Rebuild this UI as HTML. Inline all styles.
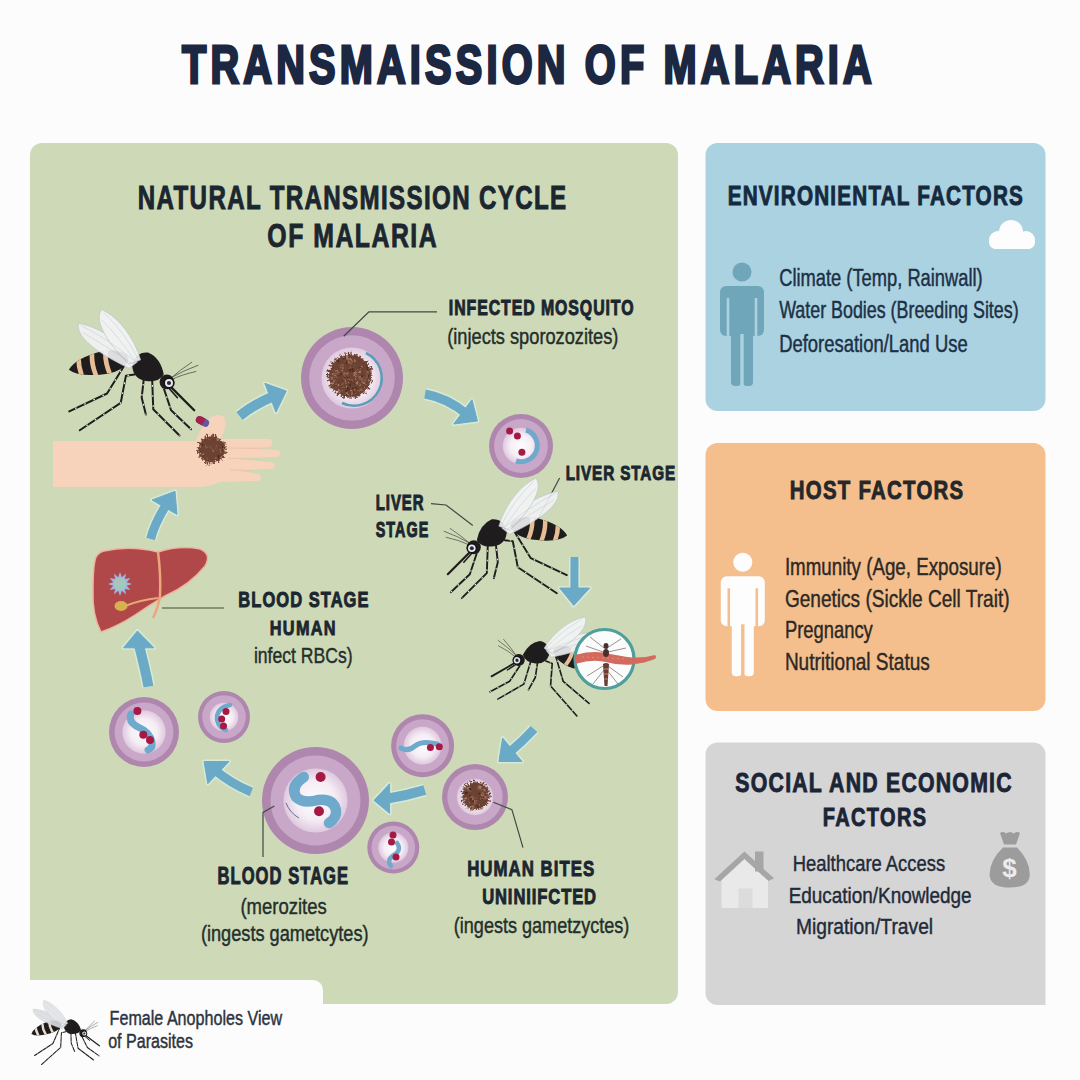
<!DOCTYPE html>
<html><head><meta charset="utf-8"><style>
html,body{margin:0;padding:0;background:#fcfcfc;}
svg{display:block;font-family:"Liberation Sans",sans-serif;}
</style></head><body>
<svg width="1080" height="1080" viewBox="0 0 1080 1080">
<defs>
<radialGradient id="cellc" cx="50%" cy="50%" r="50%">
 <stop offset="0" stop-color="#fdfcfd"/><stop offset="0.6" stop-color="#f5eef5"/><stop offset="1" stop-color="#dfc8de"/>
</radialGradient>
<filter id="fuzz" x="-30%" y="-30%" width="160%" height="160%">
 <feTurbulence type="fractalNoise" baseFrequency="0.7" numOctaves="2" seed="3" result="n"/>
 <feDisplacementMap in="SourceGraphic" in2="n" scale="3" xChannelSelector="R" yChannelSelector="G"/>
</filter>
<radialGradient id="blob" cx="50%" cy="50%" r="50%">
 <stop offset="0" stop-color="#6a3f30"/><stop offset="0.7" stop-color="#704536"/><stop offset="1" stop-color="#8a6050"/>
</radialGradient>
</defs>
<rect x="0" y="0" width="1080" height="1080" fill="#fcfcfc"/>
<rect x="30" y="143" width="648" height="861" rx="12" fill="#cedab7"/>
<rect x="705.5" y="143" width="340" height="268" rx="12" fill="#abd2e0"/>
<rect x="705.5" y="443" width="340" height="268" rx="12" fill="#f4bf8d"/>
<path d="M717.5 742.5 H1033.5 A12 12 0 0 1 1045.5 754.5 V1005 H717.5 A12 12 0 0 1 705.5 993 V754.5 A12 12 0 0 1 717.5 742.5 Z" fill="#d5d5d5"/>
<path d="M30 980 H313 A10 10 0 0 1 323 990 V1080 H30 Z" fill="#fcfcfc"/>
<path d="M239.5,416 Q256,403 275.2,395.7" stroke="#d8e9d6" stroke-width="13" fill="none"/><polygon points="264.8,383.3 286.3,391 276,412.2" fill="#d8e9d6" stroke="#d8e9d6" stroke-width="4" stroke-linejoin="round"/><path d="M239.5,416 Q256,403 275.2,395.7" stroke="#6aaac6" stroke-width="10" fill="none"/><polygon points="264.8,383.3 286.3,391 276,412.2" fill="#6aaac6" stroke="#6aaac6" stroke-width="1" stroke-linejoin="round"/>
<path d="M425,394 Q448,398 467.2,414.6" stroke="#d8e9d6" stroke-width="12" fill="none"/><polygon points="472,399.6 477.4,421 453.7,424" fill="#d8e9d6" stroke="#d8e9d6" stroke-width="4" stroke-linejoin="round"/><path d="M425,394 Q448,398 467.2,414.6" stroke="#6aaac6" stroke-width="9" fill="none"/><polygon points="472,399.6 477.4,421 453.7,424" fill="#6aaac6" stroke="#6aaac6" stroke-width="1" stroke-linejoin="round"/>
<path d="M574.5,557 L574.4,593.2" stroke="#d8e9d6" stroke-width="11" fill="none"/><polygon points="559.6,588 573.8,605.4 589.7,588" fill="#d8e9d6" stroke="#d8e9d6" stroke-width="4" stroke-linejoin="round"/><path d="M574.5,557 L574.4,593.2" stroke="#6aaac6" stroke-width="8" fill="none"/><polygon points="559.6,588 573.8,605.4 589.7,588" fill="#6aaac6" stroke="#6aaac6" stroke-width="1" stroke-linejoin="round"/>
<path d="M534,729 Q522,742 508.3,753.3" stroke="#d8e9d6" stroke-width="12" fill="none"/><polygon points="502.6,738 498.9,761.5 522,761.5" fill="#d8e9d6" stroke="#d8e9d6" stroke-width="4" stroke-linejoin="round"/><path d="M534,729 Q522,742 508.3,753.3" stroke="#6aaac6" stroke-width="9" fill="none"/><polygon points="502.6,738 498.9,761.5 522,761.5" fill="#6aaac6" stroke="#6aaac6" stroke-width="1" stroke-linejoin="round"/>
<path d="M424.8,790 Q405,796 384.9,799.1" stroke="#d8e9d6" stroke-width="13" fill="none"/><polygon points="389.6,783.7 373.9,800.4 389.6,813.3" fill="#d8e9d6" stroke="#d8e9d6" stroke-width="4" stroke-linejoin="round"/><path d="M424.8,790 Q405,796 384.9,799.1" stroke="#6aaac6" stroke-width="10" fill="none"/><polygon points="389.6,783.7 373.9,800.4 389.6,813.3" fill="#6aaac6" stroke="#6aaac6" stroke-width="1" stroke-linejoin="round"/>
<path d="M251.3,792 Q230,783 214.1,769.3" stroke="#d8e9d6" stroke-width="12" fill="none"/><polygon points="229,761.5 204,761.5 207.8,783.7" fill="#d8e9d6" stroke="#d8e9d6" stroke-width="4" stroke-linejoin="round"/><path d="M251.3,792 Q230,783 214.1,769.3" stroke="#6aaac6" stroke-width="9" fill="none"/><polygon points="229,761.5 204,761.5 207.8,783.7" fill="#6aaac6" stroke="#6aaac6" stroke-width="1" stroke-linejoin="round"/>
<path d="M148.5,686.7 Q145,668 138.3,642.8" stroke="#d8e9d6" stroke-width="13" fill="none"/><polygon points="123.5,647.8 137.4,631 154,647.8" fill="#d8e9d6" stroke="#d8e9d6" stroke-width="4" stroke-linejoin="round"/><path d="M148.5,686.7 Q145,668 138.3,642.8" stroke="#6aaac6" stroke-width="10" fill="none"/><polygon points="123.5,647.8 137.4,631 154,647.8" fill="#6aaac6" stroke="#6aaac6" stroke-width="1" stroke-linejoin="round"/>
<path d="M150.6,539 Q155,522 167.7,502.4" stroke="#d8e9d6" stroke-width="12" fill="none"/><polygon points="152,500 175,491.3 177,514.4" fill="#d8e9d6" stroke="#d8e9d6" stroke-width="4" stroke-linejoin="round"/><path d="M150.6,539 Q155,522 167.7,502.4" stroke="#6aaac6" stroke-width="9" fill="none"/><polygon points="152,500 175,491.3 177,514.4" fill="#6aaac6" stroke="#6aaac6" stroke-width="1" stroke-linejoin="round"/>
<g>
<path d="M53,441 L196,441 Q200,428 209,419 Q217,412 224,417 Q228,424 222,436 L221,439 L270,439 Q275,443 270,447 L228,448 L278,450 Q283,453.5 278,457 L230,458 L273,462.5 Q277,466 273,469 L232,470 L259,474 Q263,477.5 259,481 L220,482 Q210,487 196,487 L53,487 Z" fill="#f7d3bc"/>
<path d="M226,448 L262,448.5 M228,458.2 L266,460 M230,469.8 L252,471" stroke="#efc3a8" stroke-width="1" fill="none"/>
</g>
<g>
<path d="M104 551 Q130 545 158 552 Q180 545 200 549 Q212 554 205 566 Q190 585 165 596 Q150 605 135 615 Q118 626 101 632 Q92 615 93 590 Q93 565 96 557 Q99 552 104 551 Z" fill="#b0484a" stroke="#eeb39c" stroke-width="1.5"/>
<path d="M158 552 Q161 575 160 596 Q158 608 153 618" stroke="#eda57e" stroke-width="2.5" fill="none"/>
<path d="M125 606 Q140 600 158 598" stroke="#e8a870" stroke-width="2" fill="none"/>
<ellipse cx="121" cy="606" rx="6.5" ry="5" fill="#d7b050"/>

<polygon points="132.0,584.0 126.8,585.8 130.4,590.0 124.9,588.9 126.0,594.4 121.8,590.8 120.0,596.0 118.2,590.8 114.0,594.4 115.1,588.9 109.6,590.0 113.2,585.8 108.0,584.0 113.2,582.2 109.6,578.0 115.1,579.1 114.0,573.6 118.2,577.2 120.0,572.0 121.8,577.2 126.0,573.6 124.9,579.1 130.4,578.0 126.8,582.2" fill="#a3b6dc"/>
<circle cx="120" cy="584" r="6" fill="#a3c9bd"/></g>
<circle cx="352" cy="378" r="51" fill="#af87ae"/><circle cx="352" cy="378" r="42.84" fill="#c9a7c8"/><circle cx="352" cy="378" r="30.60" fill="url(#cellc)"/>
<g filter="url(#fuzz)"><circle cx="350" cy="376" r="21" fill="#6c4233"/><line x1="368.0" y1="375.4" x2="372.4" y2="375.2" stroke="#6c4233" stroke-width="1.2"/><line x1="367.8" y1="378.3" x2="372.0" y2="378.9" stroke="#6c4233" stroke-width="1.2"/><line x1="367.6" y1="379.7" x2="372.4" y2="380.7" stroke="#6c4233" stroke-width="1.2"/><line x1="367.6" y1="379.8" x2="372.8" y2="380.9" stroke="#6c4233" stroke-width="1.2"/><line x1="367.2" y1="381.4" x2="372.0" y2="383.0" stroke="#6c4233" stroke-width="1.2"/><line x1="366.5" y1="383.2" x2="370.4" y2="384.9" stroke="#6c4233" stroke-width="1.2"/><line x1="365.0" y1="385.9" x2="370.1" y2="389.3" stroke="#6c4233" stroke-width="1.2"/><line x1="364.6" y1="386.5" x2="368.3" y2="389.2" stroke="#6c4233" stroke-width="1.2"/><line x1="362.2" y1="389.2" x2="366.6" y2="393.9" stroke="#6c4233" stroke-width="1.2"/><line x1="361.0" y1="390.2" x2="364.1" y2="394.2" stroke="#6c4233" stroke-width="1.2"/><line x1="358.3" y1="392.0" x2="360.2" y2="395.6" stroke="#6c4233" stroke-width="1.2"/><line x1="357.0" y1="392.6" x2="358.9" y2="396.9" stroke="#6c4233" stroke-width="1.2"/><line x1="357.8" y1="392.2" x2="359.6" y2="396.1" stroke="#6c4233" stroke-width="1.2"/><line x1="355.5" y1="393.1" x2="357.4" y2="398.9" stroke="#6c4233" stroke-width="1.2"/><line x1="354.3" y1="393.5" x2="355.5" y2="398.8" stroke="#6c4233" stroke-width="1.2"/><line x1="350.8" y1="394.0" x2="351.1" y2="398.9" stroke="#6c4233" stroke-width="1.2"/><line x1="349.4" y1="394.0" x2="349.2" y2="398.1" stroke="#6c4233" stroke-width="1.2"/><line x1="349.3" y1="394.0" x2="349.2" y2="398.5" stroke="#6c4233" stroke-width="1.2"/><line x1="345.4" y1="393.4" x2="344.1" y2="398.3" stroke="#6c4233" stroke-width="1.2"/><line x1="344.9" y1="393.3" x2="343.4" y2="398.5" stroke="#6c4233" stroke-width="1.2"/><line x1="342.8" y1="392.5" x2="340.8" y2="396.8" stroke="#6c4233" stroke-width="1.2"/><line x1="340.1" y1="391.0" x2="336.9" y2="395.8" stroke="#6c4233" stroke-width="1.2"/><line x1="340.3" y1="391.1" x2="337.3" y2="395.7" stroke="#6c4233" stroke-width="1.2"/><line x1="338.0" y1="389.4" x2="333.9" y2="394.1" stroke="#6c4233" stroke-width="1.2"/><line x1="336.3" y1="387.6" x2="332.7" y2="390.7" stroke="#6c4233" stroke-width="1.2"/><line x1="334.7" y1="385.4" x2="331.0" y2="387.7" stroke="#6c4233" stroke-width="1.2"/><line x1="334.8" y1="385.6" x2="329.8" y2="388.8" stroke="#6c4233" stroke-width="1.2"/><line x1="334.4" y1="384.9" x2="329.8" y2="387.5" stroke="#6c4233" stroke-width="1.2"/><line x1="333.7" y1="383.7" x2="328.6" y2="386.1" stroke="#6c4233" stroke-width="1.2"/><line x1="332.3" y1="379.5" x2="327.0" y2="380.6" stroke="#6c4233" stroke-width="1.2"/><line x1="332.0" y1="377.3" x2="327.3" y2="377.7" stroke="#6c4233" stroke-width="1.2"/><line x1="332.0" y1="376.2" x2="326.5" y2="376.3" stroke="#6c4233" stroke-width="1.2"/><line x1="332.0" y1="374.8" x2="326.9" y2="374.5" stroke="#6c4233" stroke-width="1.2"/><line x1="332.4" y1="372.1" x2="326.2" y2="370.7" stroke="#6c4233" stroke-width="1.2"/><line x1="332.5" y1="371.6" x2="327.0" y2="370.3" stroke="#6c4233" stroke-width="1.2"/><line x1="332.6" y1="371.4" x2="327.1" y2="369.9" stroke="#6c4233" stroke-width="1.2"/><line x1="334.0" y1="367.7" x2="328.3" y2="364.7" stroke="#6c4233" stroke-width="1.2"/><line x1="335.3" y1="365.6" x2="331.4" y2="362.9" stroke="#6c4233" stroke-width="1.2"/><line x1="335.4" y1="365.5" x2="330.8" y2="362.1" stroke="#6c4233" stroke-width="1.2"/><line x1="335.7" y1="365.1" x2="331.6" y2="361.9" stroke="#6c4233" stroke-width="1.2"/><line x1="337.2" y1="363.3" x2="334.2" y2="360.3" stroke="#6c4233" stroke-width="1.2"/><line x1="338.2" y1="362.4" x2="334.4" y2="357.9" stroke="#6c4233" stroke-width="1.2"/><line x1="339.9" y1="361.1" x2="337.3" y2="357.3" stroke="#6c4233" stroke-width="1.2"/><line x1="342.2" y1="359.8" x2="339.6" y2="354.2" stroke="#6c4233" stroke-width="1.2"/><line x1="342.9" y1="359.5" x2="340.8" y2="354.8" stroke="#6c4233" stroke-width="1.2"/><line x1="346.2" y1="358.4" x2="344.8" y2="352.3" stroke="#6c4233" stroke-width="1.2"/><line x1="348.9" y1="358.0" x2="348.5" y2="351.9" stroke="#6c4233" stroke-width="1.2"/><line x1="348.8" y1="358.0" x2="348.4" y2="353.0" stroke="#6c4233" stroke-width="1.2"/><line x1="350.8" y1="358.0" x2="351.1" y2="351.8" stroke="#6c4233" stroke-width="1.2"/><line x1="354.7" y1="358.6" x2="355.9" y2="354.4" stroke="#6c4233" stroke-width="1.2"/><line x1="353.7" y1="358.4" x2="354.7" y2="353.9" stroke="#6c4233" stroke-width="1.2"/><line x1="355.7" y1="358.9" x2="357.3" y2="354.0" stroke="#6c4233" stroke-width="1.2"/><line x1="358.5" y1="360.1" x2="360.7" y2="356.0" stroke="#6c4233" stroke-width="1.2"/><line x1="358.2" y1="360.0" x2="360.5" y2="355.5" stroke="#6c4233" stroke-width="1.2"/><line x1="360.9" y1="361.6" x2="364.1" y2="357.3" stroke="#6c4233" stroke-width="1.2"/><line x1="363.7" y1="364.3" x2="368.0" y2="360.6" stroke="#6c4233" stroke-width="1.2"/><line x1="363.8" y1="364.5" x2="368.1" y2="360.9" stroke="#6c4233" stroke-width="1.2"/><line x1="365.2" y1="366.4" x2="368.7" y2="364.2" stroke="#6c4233" stroke-width="1.2"/><line x1="366.4" y1="368.7" x2="371.9" y2="366.3" stroke="#6c4233" stroke-width="1.2"/><line x1="367.1" y1="370.3" x2="372.7" y2="368.4" stroke="#6c4233" stroke-width="1.2"/><line x1="367.1" y1="370.3" x2="371.8" y2="368.7" stroke="#6c4233" stroke-width="1.2"/><line x1="367.3" y1="371.0" x2="372.7" y2="369.5" stroke="#6c4233" stroke-width="1.2"/><line x1="367.7" y1="372.6" x2="371.8" y2="371.9" stroke="#6c4233" stroke-width="1.2"/><circle cx="354.6" cy="383.5" r="1.0" fill="#4e2c22"/><circle cx="344.4" cy="373.5" r="1.3" fill="#9a6d5a"/><circle cx="363.7" cy="382.5" r="1.0" fill="#a27a66"/><circle cx="349.9" cy="383.4" r="1.0" fill="#4e2c22"/><circle cx="360.0" cy="384.8" r="1.3" fill="#8a5a48"/><circle cx="336.9" cy="377.3" r="0.7" fill="#9a6d5a"/><circle cx="349.0" cy="359.3" r="1.2" fill="#8a5a48"/><circle cx="357.7" cy="377.1" r="0.7" fill="#4e2c22"/><circle cx="364.0" cy="378.4" r="1.3" fill="#4e2c22"/><circle cx="344.0" cy="359.1" r="1.0" fill="#4e2c22"/><circle cx="338.7" cy="390.5" r="1.0" fill="#a27a66"/><circle cx="341.8" cy="391.0" r="1.0" fill="#a27a66"/><circle cx="350.9" cy="358.9" r="1.2" fill="#a27a66"/><circle cx="348.9" cy="358.6" r="0.7" fill="#a27a66"/><circle cx="348.4" cy="362.5" r="1.2" fill="#9a6d5a"/><circle cx="354.6" cy="388.5" r="0.9" fill="#4e2c22"/><circle cx="368.6" cy="374.6" r="0.7" fill="#4e2c22"/><circle cx="343.9" cy="377.2" r="0.7" fill="#4e2c22"/><circle cx="362.4" cy="367.1" r="0.9" fill="#9a6d5a"/><circle cx="354.8" cy="361.1" r="1.2" fill="#9a6d5a"/><circle cx="344.9" cy="380.3" r="0.9" fill="#a27a66"/><circle cx="352.0" cy="368.1" r="0.7" fill="#4e2c22"/><circle cx="346.7" cy="357.5" r="0.9" fill="#8a5a48"/><circle cx="347.0" cy="357.4" r="1.3" fill="#a27a66"/><circle cx="347.3" cy="374.3" r="1.2" fill="#8a5a48"/><circle cx="353.4" cy="369.5" r="1.1" fill="#8a5a48"/><circle cx="339.1" cy="372.6" r="0.6" fill="#a27a66"/><circle cx="347.4" cy="358.9" r="1.0" fill="#9a6d5a"/><circle cx="332.9" cy="383.5" r="1.2" fill="#a27a66"/><circle cx="349.9" cy="384.9" r="1.0" fill="#4e2c22"/><circle cx="342.2" cy="391.0" r="1.2" fill="#8a5a48"/><circle cx="349.7" cy="371.2" r="1.1" fill="#8a5a48"/><circle cx="332.7" cy="374.2" r="1.0" fill="#a27a66"/><circle cx="363.9" cy="377.6" r="1.1" fill="#8a5a48"/><circle cx="352.5" cy="361.1" r="0.7" fill="#a27a66"/><circle cx="347.9" cy="362.9" r="0.8" fill="#9a6d5a"/><circle cx="336.9" cy="371.3" r="1.2" fill="#9a6d5a"/><circle cx="351.7" cy="380.3" r="1.1" fill="#9a6d5a"/><circle cx="337.3" cy="370.8" r="0.9" fill="#9a6d5a"/><circle cx="334.9" cy="375.5" r="1.1" fill="#a27a66"/><circle cx="337.3" cy="373.3" r="1.0" fill="#8a5a48"/><circle cx="340.5" cy="374.6" r="1.2" fill="#4e2c22"/><circle cx="355.4" cy="393.5" r="0.7" fill="#8a5a48"/><circle cx="343.7" cy="378.4" r="1.1" fill="#9a6d5a"/><circle cx="352.9" cy="388.3" r="1.1" fill="#4e2c22"/><circle cx="360.3" cy="391.1" r="0.7" fill="#4e2c22"/><circle cx="367.8" cy="372.3" r="1.1" fill="#a27a66"/><circle cx="354.4" cy="372.1" r="1.3" fill="#a27a66"/><circle cx="359.3" cy="391.0" r="1.3" fill="#8a5a48"/><circle cx="339.2" cy="381.8" r="0.8" fill="#4e2c22"/><circle cx="366.3" cy="378.0" r="0.9" fill="#8a5a48"/><circle cx="348.7" cy="378.3" r="1.0" fill="#4e2c22"/><circle cx="354.9" cy="375.5" r="1.3" fill="#a27a66"/><circle cx="349.4" cy="382.2" r="1.2" fill="#9a6d5a"/><circle cx="350.3" cy="367.8" r="1.2" fill="#8a5a48"/><circle cx="365.0" cy="370.7" r="0.7" fill="#8a5a48"/><circle cx="333.3" cy="368.1" r="0.7" fill="#4e2c22"/><circle cx="348.2" cy="371.7" r="1.2" fill="#8a5a48"/><circle cx="360.0" cy="377.1" r="1.2" fill="#9a6d5a"/><circle cx="353.5" cy="371.6" r="0.8" fill="#9a6d5a"/><circle cx="356.7" cy="376.5" r="1.2" fill="#8a5a48"/><circle cx="356.9" cy="383.3" r="1.3" fill="#a27a66"/><circle cx="348.6" cy="395.0" r="0.7" fill="#a27a66"/><circle cx="346.3" cy="386.2" r="0.8" fill="#a27a66"/><circle cx="356.0" cy="388.3" r="1.2" fill="#4e2c22"/><circle cx="368.7" cy="380.4" r="1.1" fill="#9a6d5a"/><circle cx="355.3" cy="389.3" r="0.8" fill="#8a5a48"/><circle cx="343.0" cy="365.2" r="1.1" fill="#8a5a48"/><circle cx="360.9" cy="366.8" r="1.1" fill="#4e2c22"/><circle cx="339.5" cy="392.0" r="0.9" fill="#a27a66"/><circle cx="360.7" cy="379.8" r="0.6" fill="#a27a66"/><circle cx="361.1" cy="365.5" r="0.7" fill="#8a5a48"/><circle cx="353.0" cy="371.3" r="1.0" fill="#4e2c22"/><circle cx="365.4" cy="380.5" r="0.7" fill="#a27a66"/><circle cx="348.9" cy="388.9" r="1.3" fill="#4e2c22"/><circle cx="350.5" cy="390.3" r="0.8" fill="#4e2c22"/><circle cx="345.8" cy="383.1" r="0.9" fill="#9a6d5a"/><circle cx="354.2" cy="389.1" r="0.7" fill="#9a6d5a"/><circle cx="360.8" cy="389.7" r="0.9" fill="#9a6d5a"/><circle cx="342.7" cy="368.3" r="1.0" fill="#9a6d5a"/><circle cx="350.0" cy="361.9" r="1.1" fill="#8a5a48"/><circle cx="333.6" cy="376.6" r="1.1" fill="#4e2c22"/><circle cx="364.9" cy="380.2" r="1.1" fill="#8a5a48"/><circle cx="361.2" cy="389.4" r="1.2" fill="#9a6d5a"/><circle cx="361.5" cy="366.8" r="0.7" fill="#a27a66"/><circle cx="347.4" cy="373.0" r="0.9" fill="#9a6d5a"/><circle cx="362.3" cy="380.1" r="1.0" fill="#9a6d5a"/><circle cx="334.1" cy="377.1" r="0.9" fill="#9a6d5a"/><circle cx="354.7" cy="373.9" r="1.1" fill="#9a6d5a"/><circle cx="349.6" cy="371.1" r="1.2" fill="#4e2c22"/><circle cx="351.7" cy="393.7" r="0.8" fill="#a27a66"/><circle cx="334.9" cy="379.8" r="0.7" fill="#8a5a48"/><circle cx="345.7" cy="393.9" r="1.0" fill="#9a6d5a"/><circle cx="363.7" cy="383.2" r="0.8" fill="#a27a66"/><circle cx="344.5" cy="361.4" r="0.6" fill="#a27a66"/><circle cx="349.4" cy="380.7" r="1.1" fill="#9a6d5a"/><circle cx="346.0" cy="391.4" r="0.9" fill="#4e2c22"/><circle cx="359.7" cy="384.9" r="0.8" fill="#a27a66"/><circle cx="344.4" cy="377.0" r="0.9" fill="#4e2c22"/><circle cx="367.1" cy="372.5" r="1.3" fill="#8a5a48"/><circle cx="360.4" cy="370.0" r="0.7" fill="#a27a66"/><circle cx="349.9" cy="370.2" r="1.3" fill="#4e2c22"/><circle cx="353.0" cy="369.6" r="1.2" fill="#4e2c22"/><circle cx="351.9" cy="392.1" r="0.9" fill="#8a5a48"/><circle cx="357.3" cy="373.6" r="0.9" fill="#8a5a48"/><circle cx="335.8" cy="384.3" r="0.8" fill="#8a5a48"/><circle cx="367.7" cy="376.2" r="1.2" fill="#4e2c22"/><circle cx="356.0" cy="373.0" r="1.2" fill="#9a6d5a"/><circle cx="342.8" cy="383.5" r="0.9" fill="#8a5a48"/><circle cx="366.0" cy="384.3" r="1.1" fill="#8a5a48"/><circle cx="346.6" cy="393.5" r="1.2" fill="#9a6d5a"/><circle cx="359.5" cy="371.9" r="1.3" fill="#a27a66"/><circle cx="344.9" cy="387.7" r="1.1" fill="#4e2c22"/><circle cx="362.4" cy="378.3" r="1.2" fill="#8a5a48"/><circle cx="332.2" cy="370.3" r="0.6" fill="#9a6d5a"/><circle cx="334.2" cy="381.0" r="1.1" fill="#a27a66"/><circle cx="359.9" cy="379.1" r="0.7" fill="#a27a66"/><circle cx="347.5" cy="388.2" r="1.1" fill="#4e2c22"/><circle cx="348.8" cy="395.1" r="0.8" fill="#a27a66"/><circle cx="338.6" cy="384.9" r="1.1" fill="#a27a66"/><circle cx="344.7" cy="376.0" r="1.0" fill="#8a5a48"/><circle cx="343.5" cy="387.3" r="0.9" fill="#8a5a48"/><circle cx="350.5" cy="390.3" r="0.8" fill="#a27a66"/><circle cx="350.4" cy="381.8" r="1.2" fill="#4e2c22"/><circle cx="358.6" cy="377.1" r="0.9" fill="#8a5a48"/><circle cx="354.1" cy="392.2" r="0.8" fill="#4e2c22"/><circle cx="349.2" cy="380.7" r="0.7" fill="#4e2c22"/><circle cx="340.6" cy="366.0" r="0.7" fill="#a27a66"/><circle cx="336.3" cy="388.1" r="0.9" fill="#8a5a48"/><circle cx="354.2" cy="366.1" r="0.7" fill="#9a6d5a"/><circle cx="351.1" cy="363.4" r="1.3" fill="#8a5a48"/><circle cx="362.1" cy="382.0" r="1.3" fill="#8a5a48"/><circle cx="357.5" cy="382.1" r="0.7" fill="#a27a66"/><circle cx="364.8" cy="388.0" r="0.7" fill="#8a5a48"/><circle cx="367.0" cy="376.1" r="0.8" fill="#a27a66"/><circle cx="338.7" cy="361.3" r="1.3" fill="#4e2c22"/><circle cx="334.9" cy="373.3" r="1.1" fill="#8a5a48"/><circle cx="355.8" cy="378.8" r="0.9" fill="#a27a66"/><circle cx="342.6" cy="370.6" r="1.0" fill="#9a6d5a"/><circle cx="346.6" cy="395.0" r="1.1" fill="#4e2c22"/><circle cx="332.1" cy="378.8" r="1.0" fill="#a27a66"/><circle cx="347.2" cy="377.7" r="0.6" fill="#4e2c22"/><circle cx="356.4" cy="370.4" r="0.7" fill="#8a5a48"/><circle cx="341.8" cy="380.2" r="0.8" fill="#4e2c22"/><circle cx="348.1" cy="379.0" r="0.9" fill="#8a5a48"/><circle cx="362.2" cy="376.5" r="1.1" fill="#4e2c22"/><circle cx="353.8" cy="389.2" r="0.8" fill="#a27a66"/><circle cx="352.1" cy="393.4" r="0.8" fill="#a27a66"/><circle cx="364.1" cy="387.5" r="1.0" fill="#8a5a48"/><circle cx="331.8" cy="377.7" r="1.3" fill="#9a6d5a"/><circle cx="344.2" cy="380.6" r="0.6" fill="#a27a66"/><circle cx="337.1" cy="383.6" r="0.7" fill="#9a6d5a"/><circle cx="346.9" cy="363.4" r="1.1" fill="#4e2c22"/><circle cx="367.5" cy="368.0" r="0.7" fill="#4e2c22"/></g>
<path d="M366 353 A27 27 0 0 1 342 403" stroke="#5b9cb8" stroke-width="2.5" fill="none"/>
<circle cx="521" cy="446" r="32" fill="#af87ae"/><circle cx="521" cy="446" r="26.88" fill="#c9a7c8"/><circle cx="521" cy="446" r="18.24" fill="url(#cellc)"/>
<path d="M526 430 A15 15 0 0 1 516 461" stroke="#6faacd" stroke-width="5" fill="none"/>
<circle cx="509.6" cy="431" r="3.5" fill="#a51a45"/><circle cx="517.4" cy="436" r="3.5" fill="#a51a45"/><circle cx="521.9" cy="452.2" r="3.5" fill="#a51a45"/>
<circle cx="422.6" cy="745.7" r="31.5" fill="#af87ae"/><circle cx="422.6" cy="745.7" r="26.46" fill="#c9a7c8"/><circle cx="422.6" cy="745.7" r="18.90" fill="url(#cellc)"/>
<path d="M401 748 Q408 752 415 746 Q422 740 437 744" stroke="#6faacd" stroke-width="5" fill="none" stroke-linecap="round"/>
<circle cx="430.4" cy="747.6" r="3.5" fill="#a51a45"/><circle cx="439.3" cy="746.7" r="3.5" fill="#a51a45"/>
<circle cx="475" cy="797" r="33" fill="#af87ae"/><circle cx="475" cy="797" r="27.72" fill="#c9a7c8"/><circle cx="475" cy="797" r="18.15" fill="url(#cellc)"/>
<g filter="url(#fuzz)"><circle cx="475.7" cy="795.7" r="13" fill="#6c4233"/><line x1="485.7" y1="796.0" x2="491.0" y2="796.2" stroke="#6c4233" stroke-width="1.2"/><line x1="485.6" y1="797.2" x2="490.3" y2="798.0" stroke="#6c4233" stroke-width="1.2"/><line x1="485.0" y1="799.3" x2="490.7" y2="801.5" stroke="#6c4233" stroke-width="1.2"/><line x1="484.1" y1="801.2" x2="488.3" y2="804.0" stroke="#6c4233" stroke-width="1.2"/><line x1="484.1" y1="801.1" x2="487.7" y2="803.3" stroke="#6c4233" stroke-width="1.2"/><line x1="483.2" y1="802.3" x2="487.0" y2="805.6" stroke="#6c4233" stroke-width="1.2"/><line x1="480.7" y1="804.3" x2="483.4" y2="809.0" stroke="#6c4233" stroke-width="1.2"/><line x1="479.5" y1="804.9" x2="481.4" y2="809.5" stroke="#6c4233" stroke-width="1.2"/><line x1="478.0" y1="805.4" x2="479.0" y2="810.1" stroke="#6c4233" stroke-width="1.2"/><line x1="476.3" y1="805.7" x2="476.6" y2="809.9" stroke="#6c4233" stroke-width="1.2"/><line x1="474.9" y1="805.7" x2="474.5" y2="810.1" stroke="#6c4233" stroke-width="1.2"/><line x1="473.6" y1="805.5" x2="472.6" y2="810.5" stroke="#6c4233" stroke-width="1.2"/><line x1="472.5" y1="805.2" x2="470.6" y2="810.7" stroke="#6c4233" stroke-width="1.2"/><line x1="470.7" y1="804.4" x2="468.0" y2="809.2" stroke="#6c4233" stroke-width="1.2"/><line x1="469.8" y1="803.8" x2="466.5" y2="808.2" stroke="#6c4233" stroke-width="1.2"/><line x1="468.3" y1="802.5" x2="464.7" y2="805.8" stroke="#6c4233" stroke-width="1.2"/><line x1="467.3" y1="801.1" x2="462.2" y2="804.4" stroke="#6c4233" stroke-width="1.2"/><line x1="466.9" y1="800.4" x2="462.9" y2="802.5" stroke="#6c4233" stroke-width="1.2"/><line x1="466.2" y1="798.9" x2="461.0" y2="800.7" stroke="#6c4233" stroke-width="1.2"/><line x1="465.8" y1="796.8" x2="460.9" y2="797.3" stroke="#6c4233" stroke-width="1.2"/><line x1="465.8" y1="794.0" x2="461.8" y2="793.3" stroke="#6c4233" stroke-width="1.2"/><line x1="466.1" y1="792.8" x2="460.6" y2="791.2" stroke="#6c4233" stroke-width="1.2"/><line x1="466.9" y1="791.0" x2="462.7" y2="788.8" stroke="#6c4233" stroke-width="1.2"/><line x1="467.5" y1="790.0" x2="463.0" y2="786.8" stroke="#6c4233" stroke-width="1.2"/><line x1="468.6" y1="788.6" x2="464.1" y2="784.1" stroke="#6c4233" stroke-width="1.2"/><line x1="468.7" y1="788.5" x2="464.5" y2="784.2" stroke="#6c4233" stroke-width="1.2"/><line x1="470.0" y1="787.5" x2="466.8" y2="782.7" stroke="#6c4233" stroke-width="1.2"/><line x1="472.1" y1="786.4" x2="469.9" y2="780.8" stroke="#6c4233" stroke-width="1.2"/><line x1="474.3" y1="785.8" x2="473.4" y2="779.6" stroke="#6c4233" stroke-width="1.2"/><line x1="475.9" y1="785.7" x2="476.0" y2="781.4" stroke="#6c4233" stroke-width="1.2"/><line x1="476.9" y1="785.8" x2="477.4" y2="781.8" stroke="#6c4233" stroke-width="1.2"/><line x1="479.3" y1="786.4" x2="481.0" y2="781.9" stroke="#6c4233" stroke-width="1.2"/><line x1="480.3" y1="786.8" x2="482.4" y2="783.0" stroke="#6c4233" stroke-width="1.2"/><line x1="480.9" y1="787.2" x2="484.2" y2="781.9" stroke="#6c4233" stroke-width="1.2"/><line x1="482.6" y1="788.4" x2="486.7" y2="784.1" stroke="#6c4233" stroke-width="1.2"/><line x1="483.8" y1="789.8" x2="488.1" y2="786.8" stroke="#6c4233" stroke-width="1.2"/><line x1="484.5" y1="790.9" x2="488.3" y2="788.7" stroke="#6c4233" stroke-width="1.2"/><line x1="485.1" y1="792.4" x2="490.4" y2="790.5" stroke="#6c4233" stroke-width="1.2"/><line x1="485.6" y1="794.1" x2="490.9" y2="793.2" stroke="#6c4233" stroke-width="1.2"/><circle cx="471.4" cy="797.8" r="1.3" fill="#9a6d5a"/><circle cx="481.0" cy="798.8" r="0.9" fill="#9a6d5a"/><circle cx="487.4" cy="793.6" r="0.8" fill="#a27a66"/><circle cx="470.1" cy="790.4" r="1.1" fill="#a27a66"/><circle cx="470.1" cy="786.2" r="1.1" fill="#9a6d5a"/><circle cx="474.5" cy="802.1" r="0.9" fill="#4e2c22"/><circle cx="478.9" cy="805.5" r="0.7" fill="#a27a66"/><circle cx="474.6" cy="801.4" r="0.8" fill="#a27a66"/><circle cx="483.2" cy="795.3" r="1.1" fill="#a27a66"/><circle cx="472.0" cy="796.6" r="0.7" fill="#9a6d5a"/><circle cx="479.2" cy="788.2" r="1.2" fill="#8a5a48"/><circle cx="475.0" cy="798.0" r="0.6" fill="#9a6d5a"/><circle cx="480.1" cy="787.5" r="1.3" fill="#a27a66"/><circle cx="480.6" cy="790.3" r="1.0" fill="#8a5a48"/><circle cx="470.3" cy="786.6" r="0.7" fill="#9a6d5a"/><circle cx="469.0" cy="789.4" r="0.6" fill="#a27a66"/><circle cx="482.4" cy="797.6" r="0.6" fill="#4e2c22"/><circle cx="484.5" cy="790.4" r="1.2" fill="#9a6d5a"/><circle cx="470.4" cy="801.2" r="0.7" fill="#4e2c22"/><circle cx="473.6" cy="795.8" r="0.6" fill="#8a5a48"/><circle cx="472.7" cy="798.0" r="1.0" fill="#a27a66"/><circle cx="477.6" cy="798.8" r="0.9" fill="#4e2c22"/><circle cx="473.4" cy="801.7" r="0.8" fill="#9a6d5a"/><circle cx="470.1" cy="802.7" r="0.6" fill="#8a5a48"/><circle cx="479.1" cy="785.8" r="0.9" fill="#a27a66"/><circle cx="482.8" cy="793.0" r="1.2" fill="#8a5a48"/><circle cx="479.0" cy="788.7" r="1.0" fill="#8a5a48"/><circle cx="476.7" cy="788.6" r="0.6" fill="#a27a66"/><circle cx="470.1" cy="788.8" r="0.7" fill="#8a5a48"/><circle cx="469.2" cy="802.5" r="0.7" fill="#a27a66"/><circle cx="469.4" cy="794.9" r="0.7" fill="#9a6d5a"/><circle cx="478.5" cy="787.8" r="0.8" fill="#a27a66"/><circle cx="486.2" cy="798.7" r="0.8" fill="#8a5a48"/><circle cx="469.6" cy="788.7" r="1.2" fill="#9a6d5a"/><circle cx="480.0" cy="787.3" r="1.0" fill="#a27a66"/><circle cx="467.7" cy="788.1" r="1.2" fill="#a27a66"/><circle cx="476.7" cy="800.7" r="1.3" fill="#8a5a48"/><circle cx="472.7" cy="799.4" r="0.8" fill="#a27a66"/><circle cx="483.8" cy="789.6" r="1.2" fill="#9a6d5a"/><circle cx="470.5" cy="786.0" r="0.7" fill="#4e2c22"/><circle cx="466.9" cy="792.8" r="1.1" fill="#4e2c22"/><circle cx="475.7" cy="802.3" r="1.1" fill="#8a5a48"/><circle cx="468.3" cy="798.7" r="0.6" fill="#9a6d5a"/><circle cx="464.1" cy="798.3" r="1.1" fill="#8a5a48"/><circle cx="465.5" cy="798.4" r="1.2" fill="#a27a66"/><circle cx="482.6" cy="798.8" r="0.9" fill="#4e2c22"/><circle cx="472.3" cy="797.0" r="0.6" fill="#9a6d5a"/><circle cx="479.5" cy="793.7" r="1.1" fill="#4e2c22"/><circle cx="483.8" cy="798.6" r="1.1" fill="#8a5a48"/><circle cx="486.2" cy="797.4" r="1.3" fill="#9a6d5a"/><circle cx="479.8" cy="786.3" r="0.7" fill="#a27a66"/><circle cx="473.0" cy="806.6" r="1.1" fill="#a27a66"/><circle cx="477.5" cy="805.7" r="1.0" fill="#4e2c22"/><circle cx="473.0" cy="801.1" r="1.2" fill="#4e2c22"/><circle cx="475.5" cy="803.8" r="0.7" fill="#8a5a48"/><circle cx="469.6" cy="795.5" r="0.9" fill="#4e2c22"/><circle cx="471.3" cy="798.7" r="1.1" fill="#4e2c22"/><circle cx="481.2" cy="805.6" r="0.7" fill="#4e2c22"/><circle cx="470.0" cy="789.1" r="1.3" fill="#4e2c22"/></g>
<circle cx="393.3" cy="847.6" r="26" fill="#af87ae"/><circle cx="393.3" cy="847.6" r="21.84" fill="#c9a7c8"/><circle cx="393.3" cy="847.6" r="15.08" fill="url(#cellc)"/>
<path d="M397 843 Q402 850 394 855 Q386 860 391 866" stroke="#6faacd" stroke-width="4.5" fill="none" stroke-linecap="round"/>
<circle cx="393" cy="835" r="3.5" fill="#a51a45"/><circle cx="391.5" cy="842" r="3.5" fill="#a51a45"/><circle cx="396" cy="857" r="3.5" fill="#a51a45"/>
<circle cx="315.5" cy="800.5" r="53.5" fill="#af87ae"/><circle cx="315.5" cy="800.5" r="44.94" fill="#c9a7c8"/><circle cx="315.5" cy="800.5" r="32.10" fill="url(#cellc)"/>
<path d="M303.8 777 Q290 786 296 797 Q303 804 318 800 Q333 798 336 810 Q337 818 329 823" stroke="#6faacd" stroke-width="10.5" fill="none" stroke-linecap="round"/>
<circle cx="320.6" cy="777" r="5" fill="#a51a45"/><circle cx="319" cy="811.2" r="5" fill="#a51a45"/>
<path d="M286 803 Q290 813 299 818" stroke="#6a6a90" stroke-width="1" fill="none"/>
<circle cx="224" cy="717" r="26" fill="#af87ae"/><circle cx="224" cy="717" r="21.84" fill="#c9a7c8"/><circle cx="224" cy="717" r="14.30" fill="url(#cellc)"/>
<path d="M230 705 Q216 708 217 720 Q219 728 226 730" stroke="#6faacd" stroke-width="4.5" fill="none" stroke-linecap="round"/>
<circle cx="226" cy="711.5" r="3.5" fill="#a51a45"/><circle cx="221.7" cy="718.9" r="3.5" fill="#a51a45"/><circle cx="223.5" cy="726" r="3.5" fill="#a51a45"/>
<circle cx="144" cy="732" r="35" fill="#af87ae"/><circle cx="144" cy="732" r="29.40" fill="#c9a7c8"/><circle cx="144" cy="732" r="21.70" fill="url(#cellc)"/>
<path d="M131 714 Q128 722 138 727 Q150 732 152 742 Q153 748 148 750" stroke="#6faacd" stroke-width="7" fill="none" stroke-linecap="round"/>
<circle cx="137.4" cy="711" r="4" fill="#a51a45"/><circle cx="143.3" cy="734.8" r="4" fill="#a51a45"/><circle cx="150" cy="740" r="4" fill="#a51a45"/>
<polyline points="343.7,336.3 368.9,311.9 437,311.9" stroke="#3f4a42" stroke-width="1.3" fill="none"/>
<line x1="162" y1="608" x2="224" y2="608" stroke="#6b7d5e" stroke-width="1.5"/>
<polyline points="274.4,806 263,812.4 263,857" stroke="#3f4a42" stroke-width="1.2" fill="none"/>
<polyline points="493.3,802.2 511.9,809.6 523,847.6" stroke="#3f4a42" stroke-width="1.2" fill="none"/>
<polyline points="431,503.6 446,505 472.8,525.5" stroke="#3f4a42" stroke-width="1.2" fill="none"/>
<line x1="559.6" y1="478" x2="537.6" y2="519.8" stroke="#3f4a42" stroke-width="1.2"/>
<defs><clipPath id="abdclip"><path d="M38,-19 Q42,-30 62,-30 Q88,-28 96,-18 Q88,-9 62,-8 Q42,-8 38,-19 Z"/></clipPath></defs>
<g transform="translate(169,383) rotate(0) scale(-1.05,1.05)"><path d="M7,-1 L-2,26 L-21,44" stroke="#1e1c1d" stroke-width="1.9" fill="none" stroke-linejoin="round" stroke-linecap="round"/><path d="M7,-1 L-2,26 L-21,44" stroke="#eef0e6" stroke-width="1.1" fill="none" stroke-dasharray="1.6 8" stroke-dashoffset="-5"/><path d="M16,-3 L15,25 L-10,50" stroke="#1e1c1d" stroke-width="1.9" fill="none" stroke-linejoin="round" stroke-linecap="round"/><path d="M16,-3 L15,25 L-10,50" stroke="#eef0e6" stroke-width="1.1" fill="none" stroke-dasharray="1.6 8" stroke-dashoffset="-5"/><path d="M24,-4 L26,14 L22,30" stroke="#1e1c1d" stroke-width="1.9" fill="none" stroke-linejoin="round" stroke-linecap="round"/><path d="M24,-4 L26,14 L22,30" stroke="#eef0e6" stroke-width="1.1" fill="none" stroke-dasharray="1.6 8" stroke-dashoffset="-5"/><path d="M33,-8 L41,-7 L46,19 L85,45" stroke="#1e1c1d" stroke-width="1.9" fill="none" stroke-linejoin="round" stroke-linecap="round"/><path d="M33,-8 L41,-7 L46,19 L85,45" stroke="#eef0e6" stroke-width="1.1" fill="none" stroke-dasharray="1.6 8" stroke-dashoffset="-5"/><path d="M43,-16 L59,10 L95,27" stroke="#1e1c1d" stroke-width="1.9" fill="none" stroke-linejoin="round" stroke-linecap="round"/><path d="M43,-16 L59,10 L95,27" stroke="#eef0e6" stroke-width="1.1" fill="none" stroke-dasharray="1.6 8" stroke-dashoffset="-5"/><path d="M-1,3 L-24,26" stroke="#1e1c1d" stroke-width="2.2" fill="none" stroke-linecap="round"/><path d="M0,5 L-8,14" stroke="#1e1c1d" stroke-width="1.6" fill="none" stroke-linecap="round"/><path d="M-2,-5 Q-14,-12 -28,-17 M-2,-3 Q-12,-8 -26,-11 M-1,-4 Q-10,-12 -22,-20" stroke="#55574f" stroke-width="0.8" fill="none"/><g transform="rotate(10 65 -19)"><path d="M38,-19 Q42,-30 62,-30 Q88,-28 96,-18 Q88,-9 62,-8 Q42,-8 38,-19 Z" fill="#1e1c1d"/><g clip-path="url(#abdclip)"><path d="M56,-31 q3,11 0,24 l4.5,0 q3,-13 0,-24 Z" fill="#e6bd95"/><path d="M69,-31 q3,11 0,24 l4.5,0 q3,-13 0,-24 Z" fill="#e6bd95"/><path d="M82,-31 q3,11 0,24 l4.5,0 q3,-13 0,-24 Z" fill="#e6bd95"/></g></g><path d="M5,-8 Q8,-24 20,-29 Q32,-30 35,-16 Q34,-4 22,-2 Q10,0 5,-8 Z" fill="#1e1c1d"/><circle cx="2" cy="-1" r="7" fill="#1e1c1d"/><g opacity="0.9"><path d="M30,-20 C42,-36 62,-52 86,-57 C89,-47 76,-32 38,-14 Z" fill="#f2f3f6" stroke="#b8bcc4" stroke-width="0.6"/><path d="M27,-22 C33,-42 47,-62 64,-70 C71,-62 63,-42 38,-18 Z" fill="#f4f5f8" stroke="#b8bcc4" stroke-width="0.6"/><path d="M33,-21 Q55,-40 84,-55 M34,-18 Q58,-34 82,-48 M30,-24 Q42,-48 62,-67 M33,-22 Q48,-44 64,-60" stroke="#c3c7cf" stroke-width="0.5" fill="none"/></g><circle cx="0" cy="0" r="5.4" fill="#151515"/><circle cx="0" cy="0" r="3.8" fill="#e4eaee"/><circle cx="0" cy="0" r="2" fill="#2b2b3b"/></g>
<g transform="translate(471.8,548.2) rotate(0) scale(1.0,1.0)"><path d="M7,-1 L-2,26 L-21,44" stroke="#1e1c1d" stroke-width="1.9" fill="none" stroke-linejoin="round" stroke-linecap="round"/><path d="M7,-1 L-2,26 L-21,44" stroke="#eef0e6" stroke-width="1.1" fill="none" stroke-dasharray="1.6 8" stroke-dashoffset="-5"/><path d="M16,-3 L15,25 L-10,50" stroke="#1e1c1d" stroke-width="1.9" fill="none" stroke-linejoin="round" stroke-linecap="round"/><path d="M16,-3 L15,25 L-10,50" stroke="#eef0e6" stroke-width="1.1" fill="none" stroke-dasharray="1.6 8" stroke-dashoffset="-5"/><path d="M24,-4 L26,14 L22,30" stroke="#1e1c1d" stroke-width="1.9" fill="none" stroke-linejoin="round" stroke-linecap="round"/><path d="M24,-4 L26,14 L22,30" stroke="#eef0e6" stroke-width="1.1" fill="none" stroke-dasharray="1.6 8" stroke-dashoffset="-5"/><path d="M33,-8 L41,-7 L46,19 L85,45" stroke="#1e1c1d" stroke-width="1.9" fill="none" stroke-linejoin="round" stroke-linecap="round"/><path d="M33,-8 L41,-7 L46,19 L85,45" stroke="#eef0e6" stroke-width="1.1" fill="none" stroke-dasharray="1.6 8" stroke-dashoffset="-5"/><path d="M43,-16 L59,10 L95,27" stroke="#1e1c1d" stroke-width="1.9" fill="none" stroke-linejoin="round" stroke-linecap="round"/><path d="M43,-16 L59,10 L95,27" stroke="#eef0e6" stroke-width="1.1" fill="none" stroke-dasharray="1.6 8" stroke-dashoffset="-5"/><path d="M-1,3 L-24,26" stroke="#1e1c1d" stroke-width="2.2" fill="none" stroke-linecap="round"/><path d="M0,5 L-8,14" stroke="#1e1c1d" stroke-width="1.6" fill="none" stroke-linecap="round"/><path d="M-2,-5 Q-14,-12 -28,-17 M-2,-3 Q-12,-8 -26,-11 M-1,-4 Q-10,-12 -22,-20" stroke="#55574f" stroke-width="0.8" fill="none"/><g transform="rotate(10 65 -19)"><path d="M38,-19 Q42,-30 62,-30 Q88,-28 96,-18 Q88,-9 62,-8 Q42,-8 38,-19 Z" fill="#1e1c1d"/><g clip-path="url(#abdclip)"><path d="M56,-31 q3,11 0,24 l4.5,0 q3,-13 0,-24 Z" fill="#e6bd95"/><path d="M69,-31 q3,11 0,24 l4.5,0 q3,-13 0,-24 Z" fill="#e6bd95"/><path d="M82,-31 q3,11 0,24 l4.5,0 q3,-13 0,-24 Z" fill="#e6bd95"/></g></g><path d="M5,-8 Q8,-24 20,-29 Q32,-30 35,-16 Q34,-4 22,-2 Q10,0 5,-8 Z" fill="#1e1c1d"/><circle cx="2" cy="-1" r="7" fill="#1e1c1d"/><g opacity="0.9"><path d="M30,-20 C42,-36 62,-52 86,-57 C89,-47 76,-32 38,-14 Z" fill="#f2f3f6" stroke="#b8bcc4" stroke-width="0.6"/><path d="M27,-22 C33,-42 47,-62 64,-70 C71,-62 63,-42 38,-18 Z" fill="#f4f5f8" stroke="#b8bcc4" stroke-width="0.6"/><path d="M33,-21 Q55,-40 84,-55 M34,-18 Q58,-34 82,-48 M30,-24 Q42,-48 62,-67 M33,-22 Q48,-44 64,-60" stroke="#c3c7cf" stroke-width="0.5" fill="none"/></g><circle cx="0" cy="0" r="5.4" fill="#151515"/><circle cx="0" cy="0" r="3.8" fill="#e4eaee"/><circle cx="0" cy="0" r="2" fill="#2b2b3b"/></g>
<g transform="translate(517,660.3) rotate(15) scale(0.85,0.85)"><path d="M7,-1 L-2,26 L-21,44" stroke="#1e1c1d" stroke-width="1.9" fill="none" stroke-linejoin="round" stroke-linecap="round"/><path d="M7,-1 L-2,26 L-21,44" stroke="#eef0e6" stroke-width="1.1" fill="none" stroke-dasharray="1.6 8" stroke-dashoffset="-5"/><path d="M16,-3 L15,25 L-10,50" stroke="#1e1c1d" stroke-width="1.9" fill="none" stroke-linejoin="round" stroke-linecap="round"/><path d="M16,-3 L15,25 L-10,50" stroke="#eef0e6" stroke-width="1.1" fill="none" stroke-dasharray="1.6 8" stroke-dashoffset="-5"/><path d="M24,-4 L26,14 L22,30" stroke="#1e1c1d" stroke-width="1.9" fill="none" stroke-linejoin="round" stroke-linecap="round"/><path d="M24,-4 L26,14 L22,30" stroke="#eef0e6" stroke-width="1.1" fill="none" stroke-dasharray="1.6 8" stroke-dashoffset="-5"/><path d="M33,-8 L41,-7 L46,19 L85,45" stroke="#1e1c1d" stroke-width="1.9" fill="none" stroke-linejoin="round" stroke-linecap="round"/><path d="M33,-8 L41,-7 L46,19 L85,45" stroke="#eef0e6" stroke-width="1.1" fill="none" stroke-dasharray="1.6 8" stroke-dashoffset="-5"/><path d="M43,-16 L59,10 L95,27" stroke="#1e1c1d" stroke-width="1.9" fill="none" stroke-linejoin="round" stroke-linecap="round"/><path d="M43,-16 L59,10 L95,27" stroke="#eef0e6" stroke-width="1.1" fill="none" stroke-dasharray="1.6 8" stroke-dashoffset="-5"/><path d="M-1,3 L-24,26" stroke="#1e1c1d" stroke-width="2.2" fill="none" stroke-linecap="round"/><path d="M0,5 L-8,14" stroke="#1e1c1d" stroke-width="1.6" fill="none" stroke-linecap="round"/><path d="M-2,-5 Q-14,-12 -28,-17 M-2,-3 Q-12,-8 -26,-11 M-1,-4 Q-10,-12 -22,-20" stroke="#55574f" stroke-width="0.8" fill="none"/><g transform="rotate(10 65 -19)"><path d="M38,-19 Q42,-30 62,-30 Q88,-28 96,-18 Q88,-9 62,-8 Q42,-8 38,-19 Z" fill="#1e1c1d"/><g clip-path="url(#abdclip)"><path d="M56,-31 q3,11 0,24 l4.5,0 q3,-13 0,-24 Z" fill="#e6bd95"/><path d="M69,-31 q3,11 0,24 l4.5,0 q3,-13 0,-24 Z" fill="#e6bd95"/><path d="M82,-31 q3,11 0,24 l4.5,0 q3,-13 0,-24 Z" fill="#e6bd95"/></g></g><path d="M5,-8 Q8,-24 20,-29 Q32,-30 35,-16 Q34,-4 22,-2 Q10,0 5,-8 Z" fill="#1e1c1d"/><circle cx="2" cy="-1" r="7" fill="#1e1c1d"/><g opacity="0.9"><path d="M30,-20 C42,-36 62,-52 86,-57 C89,-47 76,-32 38,-14 Z" fill="#f2f3f6" stroke="#b8bcc4" stroke-width="0.6"/><path d="M27,-22 C33,-42 47,-62 64,-70 C71,-62 63,-42 38,-18 Z" fill="#f4f5f8" stroke="#b8bcc4" stroke-width="0.6"/><path d="M33,-21 Q55,-40 84,-55 M34,-18 Q58,-34 82,-48 M30,-24 Q42,-48 62,-67 M33,-22 Q48,-44 64,-60" stroke="#c3c7cf" stroke-width="0.5" fill="none"/></g><circle cx="0" cy="0" r="5.4" fill="#151515"/><circle cx="0" cy="0" r="3.8" fill="#e4eaee"/><circle cx="0" cy="0" r="2" fill="#2b2b3b"/></g>
<g transform="translate(84.3,1033.5) rotate(-8) scale(-0.55,0.55)"><path d="M7,-1 L-2,26 L-21,44" stroke="#1e1c1d" stroke-width="1.9" fill="none" stroke-linejoin="round" stroke-linecap="round"/><path d="M7,-1 L-2,26 L-21,44" stroke="#eef0e6" stroke-width="1.1" fill="none" stroke-dasharray="1.6 8" stroke-dashoffset="-5"/><path d="M16,-3 L15,25 L-10,50" stroke="#1e1c1d" stroke-width="1.9" fill="none" stroke-linejoin="round" stroke-linecap="round"/><path d="M16,-3 L15,25 L-10,50" stroke="#eef0e6" stroke-width="1.1" fill="none" stroke-dasharray="1.6 8" stroke-dashoffset="-5"/><path d="M24,-4 L26,14 L22,30" stroke="#1e1c1d" stroke-width="1.9" fill="none" stroke-linejoin="round" stroke-linecap="round"/><path d="M24,-4 L26,14 L22,30" stroke="#eef0e6" stroke-width="1.1" fill="none" stroke-dasharray="1.6 8" stroke-dashoffset="-5"/><path d="M33,-8 L41,-7 L46,19 L85,45" stroke="#1e1c1d" stroke-width="1.9" fill="none" stroke-linejoin="round" stroke-linecap="round"/><path d="M33,-8 L41,-7 L46,19 L85,45" stroke="#eef0e6" stroke-width="1.1" fill="none" stroke-dasharray="1.6 8" stroke-dashoffset="-5"/><path d="M43,-16 L59,10 L95,27" stroke="#1e1c1d" stroke-width="1.9" fill="none" stroke-linejoin="round" stroke-linecap="round"/><path d="M43,-16 L59,10 L95,27" stroke="#eef0e6" stroke-width="1.1" fill="none" stroke-dasharray="1.6 8" stroke-dashoffset="-5"/><path d="M-1,3 L-24,26" stroke="#1e1c1d" stroke-width="2.2" fill="none" stroke-linecap="round"/><path d="M0,5 L-8,14" stroke="#1e1c1d" stroke-width="1.6" fill="none" stroke-linecap="round"/><path d="M-2,-5 Q-14,-12 -28,-17 M-2,-3 Q-12,-8 -26,-11 M-1,-4 Q-10,-12 -22,-20" stroke="#55574f" stroke-width="0.8" fill="none"/><g transform="rotate(10 65 -19)"><path d="M38,-19 Q42,-30 62,-30 Q88,-28 96,-18 Q88,-9 62,-8 Q42,-8 38,-19 Z" fill="#1e1c1d"/><g clip-path="url(#abdclip)"><path d="M56,-31 q3,11 0,24 l4.5,0 q3,-13 0,-24 Z" fill="#e9dccb"/><path d="M69,-31 q3,11 0,24 l4.5,0 q3,-13 0,-24 Z" fill="#e9dccb"/><path d="M82,-31 q3,11 0,24 l4.5,0 q3,-13 0,-24 Z" fill="#e9dccb"/></g></g><path d="M5,-8 Q8,-24 20,-29 Q32,-30 35,-16 Q34,-4 22,-2 Q10,0 5,-8 Z" fill="#1e1c1d"/><circle cx="2" cy="-1" r="7" fill="#1e1c1d"/><g opacity="0.9"><path d="M30,-20 C42,-36 62,-52 86,-57 C89,-47 76,-32 38,-14 Z" fill="#dcdee2" stroke="#b8bcc4" stroke-width="0.6"/><path d="M27,-22 C33,-42 47,-62 64,-70 C71,-62 63,-42 38,-18 Z" fill="#e2e4e8" stroke="#b8bcc4" stroke-width="0.6"/><path d="M33,-21 Q55,-40 84,-55 M34,-18 Q58,-34 82,-48 M30,-24 Q42,-48 62,-67 M33,-22 Q48,-44 64,-60" stroke="#c3c7cf" stroke-width="0.5" fill="none"/></g><circle cx="0" cy="0" r="5.4" fill="#151515"/><circle cx="0" cy="0" r="3.8" fill="#e4eaee"/><circle cx="0" cy="0" r="2" fill="#2b2b3b"/></g>
<g>
<circle cx="604.5" cy="659" r="29.5" fill="#fafbfb" stroke="#4e9e9b" stroke-width="3.2"/>
<g stroke="#6a5550" stroke-width="0.8" fill="none" opacity="0.8">
<path d="M604,648 L590,637 M607,648 L621,639 M603,652 L586,646 M608,652 L626,648 M603,666 L587,676 M608,666 L623,677 M604,670 L593,684 M607,670 L618,684"/>
</g>
<path d="M577,654.5 Q590,651 603,652.5 Q620,656 632,657.5 Q645,658 655,655 Q657,657 655,659 Q645,663 632,664.5 Q618,665.5 603,661.5 Q590,659.5 577,663.5 Q572,659 577,654.5 Z" fill="#d4695e"/>
<path d="M582,657 L626,659" stroke="#e08a80" stroke-width="1" stroke-dasharray="2 3" fill="none"/>
<ellipse cx="606" cy="646" rx="2.5" ry="3" fill="#4a302c"/>
<ellipse cx="606" cy="653" rx="3" ry="4" fill="#4a302c"/>
<path d="M603,664 Q606,662 609,664 L607.5,686 L604.5,686 Z" fill="#6b3c34"/>
<path d="M603.5,669 L608.5,669 M603.8,674 L608.2,674 M604.2,679 L607.8,679" stroke="#c08a70" stroke-width="1"/>
</g>
<g filter="url(#fuzz)"><circle cx="211.6" cy="449.3" r="13" fill="#6c4233"/><line x1="221.6" y1="449.2" x2="226.9" y2="449.2" stroke="#6c4233" stroke-width="1.2"/><line x1="221.4" y1="451.3" x2="227.5" y2="452.5" stroke="#6c4233" stroke-width="1.2"/><line x1="221.2" y1="452.0" x2="226.4" y2="453.4" stroke="#6c4233" stroke-width="1.2"/><line x1="220.1" y1="454.6" x2="225.1" y2="457.6" stroke="#6c4233" stroke-width="1.2"/><line x1="219.7" y1="455.1" x2="223.8" y2="458.0" stroke="#6c4233" stroke-width="1.2"/><line x1="218.7" y1="456.3" x2="221.8" y2="459.4" stroke="#6c4233" stroke-width="1.2"/><line x1="217.6" y1="457.3" x2="220.1" y2="460.7" stroke="#6c4233" stroke-width="1.2"/><line x1="216.4" y1="458.1" x2="219.0" y2="463.0" stroke="#6c4233" stroke-width="1.2"/><line x1="213.5" y1="459.1" x2="214.4" y2="463.8" stroke="#6c4233" stroke-width="1.2"/><line x1="212.8" y1="459.2" x2="213.3" y2="464.0" stroke="#6c4233" stroke-width="1.2"/><line x1="210.3" y1="459.2" x2="209.4" y2="465.3" stroke="#6c4233" stroke-width="1.2"/><line x1="208.8" y1="458.9" x2="207.0" y2="464.9" stroke="#6c4233" stroke-width="1.2"/><line x1="207.6" y1="458.5" x2="205.3" y2="463.9" stroke="#6c4233" stroke-width="1.2"/><line x1="207.1" y1="458.2" x2="205.0" y2="462.4" stroke="#6c4233" stroke-width="1.2"/><line x1="205.1" y1="456.9" x2="201.8" y2="460.7" stroke="#6c4233" stroke-width="1.2"/><line x1="204.3" y1="456.1" x2="201.3" y2="458.9" stroke="#6c4233" stroke-width="1.2"/><line x1="203.2" y1="454.7" x2="198.5" y2="457.6" stroke="#6c4233" stroke-width="1.2"/><line x1="202.8" y1="454.0" x2="199.2" y2="456.0" stroke="#6c4233" stroke-width="1.2"/><line x1="201.9" y1="451.6" x2="197.2" y2="452.6" stroke="#6c4233" stroke-width="1.2"/><line x1="201.6" y1="450.1" x2="196.3" y2="450.5" stroke="#6c4233" stroke-width="1.2"/><line x1="201.6" y1="448.7" x2="196.9" y2="448.4" stroke="#6c4233" stroke-width="1.2"/><line x1="201.7" y1="447.6" x2="196.9" y2="446.8" stroke="#6c4233" stroke-width="1.2"/><line x1="202.7" y1="444.8" x2="198.8" y2="442.8" stroke="#6c4233" stroke-width="1.2"/><line x1="202.7" y1="444.8" x2="197.3" y2="442.1" stroke="#6c4233" stroke-width="1.2"/><line x1="204.4" y1="442.4" x2="200.7" y2="438.8" stroke="#6c4233" stroke-width="1.2"/><line x1="204.6" y1="442.1" x2="201.6" y2="439.0" stroke="#6c4233" stroke-width="1.2"/><line x1="206.9" y1="440.5" x2="204.7" y2="436.4" stroke="#6c4233" stroke-width="1.2"/><line x1="208.6" y1="439.7" x2="206.7" y2="433.6" stroke="#6c4233" stroke-width="1.2"/><line x1="208.7" y1="439.7" x2="207.0" y2="433.9" stroke="#6c4233" stroke-width="1.2"/><line x1="212.0" y1="439.3" x2="212.2" y2="433.8" stroke="#6c4233" stroke-width="1.2"/><line x1="213.0" y1="439.4" x2="213.7" y2="433.9" stroke="#6c4233" stroke-width="1.2"/><line x1="214.4" y1="439.7" x2="215.9" y2="434.7" stroke="#6c4233" stroke-width="1.2"/><line x1="215.3" y1="440.0" x2="216.7" y2="436.3" stroke="#6c4233" stroke-width="1.2"/><line x1="216.5" y1="440.6" x2="218.5" y2="437.1" stroke="#6c4233" stroke-width="1.2"/><line x1="218.1" y1="441.7" x2="220.9" y2="438.3" stroke="#6c4233" stroke-width="1.2"/><line x1="220.1" y1="444.0" x2="223.7" y2="441.7" stroke="#6c4233" stroke-width="1.2"/><line x1="220.6" y1="444.9" x2="225.6" y2="442.3" stroke="#6c4233" stroke-width="1.2"/><line x1="220.9" y1="445.6" x2="225.5" y2="443.7" stroke="#6c4233" stroke-width="1.2"/><line x1="221.5" y1="447.7" x2="227.0" y2="446.9" stroke="#6c4233" stroke-width="1.2"/><circle cx="203.3" cy="454.2" r="1.0" fill="#a27a66"/><circle cx="209.5" cy="447.2" r="1.1" fill="#8a5a48"/><circle cx="212.1" cy="448.5" r="0.7" fill="#8a5a48"/><circle cx="216.0" cy="457.9" r="0.8" fill="#9a6d5a"/><circle cx="218.5" cy="456.0" r="1.1" fill="#4e2c22"/><circle cx="205.8" cy="447.3" r="1.1" fill="#8a5a48"/><circle cx="222.9" cy="447.3" r="1.0" fill="#4e2c22"/><circle cx="214.0" cy="460.8" r="0.7" fill="#9a6d5a"/><circle cx="217.8" cy="439.8" r="1.3" fill="#a27a66"/><circle cx="206.8" cy="458.4" r="0.8" fill="#8a5a48"/><circle cx="216.5" cy="446.1" r="0.9" fill="#8a5a48"/><circle cx="220.3" cy="449.6" r="0.9" fill="#9a6d5a"/><circle cx="202.4" cy="444.9" r="1.2" fill="#4e2c22"/><circle cx="205.2" cy="445.5" r="0.7" fill="#a27a66"/><circle cx="213.1" cy="450.5" r="0.8" fill="#a27a66"/><circle cx="216.0" cy="450.1" r="0.7" fill="#9a6d5a"/><circle cx="220.9" cy="451.8" r="1.1" fill="#9a6d5a"/><circle cx="209.0" cy="447.6" r="0.7" fill="#4e2c22"/><circle cx="200.2" cy="446.8" r="1.2" fill="#9a6d5a"/><circle cx="209.1" cy="439.2" r="0.7" fill="#8a5a48"/></g>
<g transform="rotate(28 202.5 421.4)"><rect x="195.5" y="417.6" width="14" height="7.6" rx="3.8" fill="#5f57a8"/><rect x="195.5" y="417.6" width="7.5" height="7.6" rx="3.8" fill="#a82048"/><rect x="200" y="417.6" width="4" height="7.6" fill="#a82048"/></g>
<g fill="#fdfdfd"><circle cx="1011" cy="232" r="12"/><circle cx="998" cy="240" r="9"/><circle cx="1026" cy="240" r="9"/><rect x="989" y="236" width="46" height="13" rx="6.5"/></g>
<g fill="#6fa6ba"><circle cx="742" cy="272" r="9.5"/><rect x="720" y="286" width="44" height="50" rx="6"/><rect x="731" y="312" width="10" height="74" rx="4"/><rect x="743" y="312" width="10" height="74" rx="4"/></g><g stroke="#abd2e0" stroke-width="2.6"><line x1="728" y1="298" x2="728" y2="338"/><line x1="756" y1="298" x2="756" y2="338"/><line x1="742" y1="334" x2="742" y2="387" stroke-width="3.4"/></g>
<g fill="#fdfdfd"><circle cx="742.8" cy="562.3" r="9.5"/><rect x="720.8" y="576.3" width="44" height="50" rx="6"/><rect x="731.8" y="602.3" width="10" height="74" rx="4"/><rect x="743.8" y="602.3" width="10" height="74" rx="4"/></g><g stroke="#f4bf8d" stroke-width="2.6"><line x1="728.8" y1="588.3" x2="728.8" y2="628.3"/><line x1="756.8" y1="588.3" x2="756.8" y2="628.3"/><line x1="742.8" y1="624.3" x2="742.8" y2="677.3" stroke-width="3.4"/></g>
<g>
<path d="M743.8,857 L768,879.5 L768,908 L721.5,908 L721.5,879.5 Z" fill="#e9e9e9"/>
<rect x="738.5" y="888.5" width="14" height="19.5" fill="#dcdcdc"/>
<rect x="755" y="851.5" width="8.5" height="20" fill="#a6a6a6"/>
<path d="M714.3,879.3 L744.4,851.5 L774,878.3 L768.5,881 L744.4,859 L720,881.5 Z" fill="#a6a6a6"/>
</g>
<g fill="#9c9c9c">
<path d="M1000,833 Q1003,831 1006,833.5 Q1010,830.5 1014,833.5 Q1017,831 1020,833 L1016,844.5 L1004,844.5 Z"/>
<path d="M1003,847.5 L1017,847.5 Q1029.5,860 1029.8,874 Q1030,887.5 1010,887.5 Q989.5,887.5 989.6,874 Q990,860 1003,847.5 Z"/>
</g>
<text x="1009.6" y="876.5" font-size="26" font-weight="bold" fill="#ececec" text-anchor="middle" font-family="Liberation Sans">$</text>
<text transform="translate(182.05,83.45) scale(0.7402,1)" font-size="53.63" font-weight="bold" fill="#1c2742" stroke="#1c2742" stroke-width="2.84" letter-spacing="5.673">TRANSMAISSION OF MALARIA</text>
<text transform="translate(137.75,209.25) scale(0.7312,1)" font-size="32.99" font-weight="bold" fill="#1b2630" stroke="#1b2630" stroke-width="0.96" letter-spacing="1.877">NATURAL TRANSMISSION CYCLE</text>
<text transform="translate(267.35,246.65) scale(0.7658,1)" font-size="32.41" font-weight="bold" fill="#1b2630" stroke="#1b2630" stroke-width="0.91" letter-spacing="1.965">OF MALARIA</text>
<text transform="translate(448.85,315.35) scale(0.7142,1)" font-size="22.24" font-weight="bold" fill="#1b2630" stroke="#1b2630" stroke-width="0.98" letter-spacing="1.294">INFECTED MOSQUITO</text>
<text transform="translate(447.18,344.22) scale(0.8018,1)" font-size="22.75" font-weight="normal" fill="#242e2b" stroke="#242e2b" stroke-width="0.44" letter-spacing="0.000">(injects sporozozites)</text>
<text transform="translate(565.65,480.15) scale(0.7254,1)" font-size="21.08" font-weight="bold" fill="#1b2630" stroke="#1b2630" stroke-width="0.96" letter-spacing="1.209">LIVER STAGE</text>
<text transform="translate(375.65,510.15) scale(0.6971,1)" font-size="21.51" font-weight="bold" fill="#1b2630" stroke="#1b2630" stroke-width="1.00" letter-spacing="1.377">LIVER</text>
<text transform="translate(375.65,537.35) scale(0.6512,1)" font-size="22.09" font-weight="bold" fill="#1b2630" stroke="#1b2630" stroke-width="1.07" letter-spacing="1.619">STAGE</text>
<text transform="translate(238.35,607.45) scale(0.7277,1)" font-size="22.67" font-weight="bold" fill="#1b2630" stroke="#1b2630" stroke-width="0.96" letter-spacing="1.431">BLOOD STAGE</text>
<text transform="translate(269.75,635.25) scale(0.7841,1)" font-size="20.78" font-weight="bold" fill="#1b2630" stroke="#1b2630" stroke-width="0.89" letter-spacing="1.681">HUMAN</text>
<text transform="translate(253.88,662.83) scale(0.8267,1)" font-size="21.29" font-weight="normal" fill="#242e2b" stroke="#242e2b" stroke-width="0.42" letter-spacing="0.000">infect RBCs)</text>
<text transform="translate(217.55,884.25) scale(0.7116,1)" font-size="23.26" font-weight="bold" fill="#1b2630" stroke="#1b2630" stroke-width="0.98" letter-spacing="1.468">BLOOD STAGE</text>
<text transform="translate(240.38,914.03) scale(0.8138,1)" font-size="22.75" font-weight="normal" fill="#242e2b" stroke="#242e2b" stroke-width="0.43" letter-spacing="0.000">(merozites</text>
<text transform="translate(200.88,941.23) scale(0.7999,1)" font-size="22.75" font-weight="normal" fill="#242e2b" stroke="#242e2b" stroke-width="0.44" letter-spacing="0.000">(ingests gametcytes)</text>
<text transform="translate(467.15,876.05) scale(0.7571,1)" font-size="22.24" font-weight="bold" fill="#1b2630" stroke="#1b2630" stroke-width="0.92" letter-spacing="1.343">HUMAN BITES</text>
<text transform="translate(482.15,904.25) scale(0.7445,1)" font-size="22.24" font-weight="bold" fill="#1b2630" stroke="#1b2630" stroke-width="0.94" letter-spacing="1.225">UNINIIFCTED</text>
<text transform="translate(453.78,933.12) scale(0.7940,1)" font-size="22.75" font-weight="normal" fill="#242e2b" stroke="#242e2b" stroke-width="0.44" letter-spacing="0.000">(ingests gametzyctes)</text>
<text transform="translate(727.75,204.95) scale(0.7541,1)" font-size="27.47" font-weight="bold" fill="#152a3f" stroke="#152a3f" stroke-width="0.93" letter-spacing="1.566">ENVIRONIENTAL FACTORS</text>
<text transform="translate(779.17,286.32) scale(0.7805,1)" font-size="23.47" font-weight="normal" fill="#1c3046" stroke="#1c3046" stroke-width="0.45" letter-spacing="0.000">Climate (Temp, Rainwall)</text>
<text transform="translate(779.17,318.43) scale(0.7610,1)" font-size="23.47" font-weight="normal" fill="#1c3046" stroke="#1c3046" stroke-width="0.46" letter-spacing="0.000">Water Bodies (Breeding Sites)</text>
<text transform="translate(779.17,351.82) scale(0.7856,1)" font-size="23.47" font-weight="normal" fill="#1c3046" stroke="#1c3046" stroke-width="0.45" letter-spacing="0.000">Deforesation/Land Use</text>
<text transform="translate(789.75,499.05) scale(0.7679,1)" font-size="26.60" font-weight="bold" fill="#25272b" stroke="#25272b" stroke-width="0.91" letter-spacing="1.643">HOST FACTORS</text>
<text transform="translate(784.88,574.83) scale(0.7573,1)" font-size="24.78" font-weight="normal" fill="#2d2926" stroke="#2d2926" stroke-width="0.46" letter-spacing="0.000">Immunity (Age, Exposure)</text>
<text transform="translate(784.88,607.23) scale(0.7884,1)" font-size="24.20" font-weight="normal" fill="#2d2926" stroke="#2d2926" stroke-width="0.44" letter-spacing="0.000">Genetics (Sickle Cell Trait)</text>
<text transform="translate(784.88,637.83) scale(0.7603,1)" font-size="24.20" font-weight="normal" fill="#2d2926" stroke="#2d2926" stroke-width="0.46" letter-spacing="0.000">Pregnancy</text>
<text transform="translate(784.88,670.12) scale(0.7865,1)" font-size="24.20" font-weight="normal" fill="#2d2926" stroke="#2d2926" stroke-width="0.44" letter-spacing="0.000">Nutritional Status</text>
<text transform="translate(735.35,792.45) scale(0.7788,1)" font-size="27.33" font-weight="bold" fill="#1c2536" stroke="#1c2536" stroke-width="0.90" letter-spacing="1.577">SOCIAL AND ECONOMIC</text>
<text transform="translate(822.85,826.45) scale(0.7499,1)" font-size="26.60" font-weight="bold" fill="#1c2536" stroke="#1c2536" stroke-width="0.93" letter-spacing="1.835">FACTORS</text>
<text transform="translate(792.77,870.73) scale(0.8089,1)" font-size="22.75" font-weight="normal" fill="#212a39" stroke="#212a39" stroke-width="0.43" letter-spacing="0.000">Healthcare Access</text>
<text transform="translate(788.67,902.83) scale(0.8322,1)" font-size="22.75" font-weight="normal" fill="#212a39" stroke="#212a39" stroke-width="0.42" letter-spacing="0.000">Education/Knowledge</text>
<text transform="translate(795.88,934.33) scale(0.8462,1)" font-size="22.75" font-weight="normal" fill="#212a39" stroke="#212a39" stroke-width="0.41" letter-spacing="0.000">Migration/Travel</text>
<text transform="translate(109.58,1024.83) scale(0.7834,1)" font-size="20.57" font-weight="normal" fill="#2c3340" stroke="#2c3340" stroke-width="0.45" letter-spacing="0.000">Female Anopholes View</text>
<text transform="translate(108.17,1048.12) scale(0.7814,1)" font-size="20.57" font-weight="normal" fill="#2c3340" stroke="#2c3340" stroke-width="0.45" letter-spacing="0.000">of Parasites</text>
</svg>
</body></html>
